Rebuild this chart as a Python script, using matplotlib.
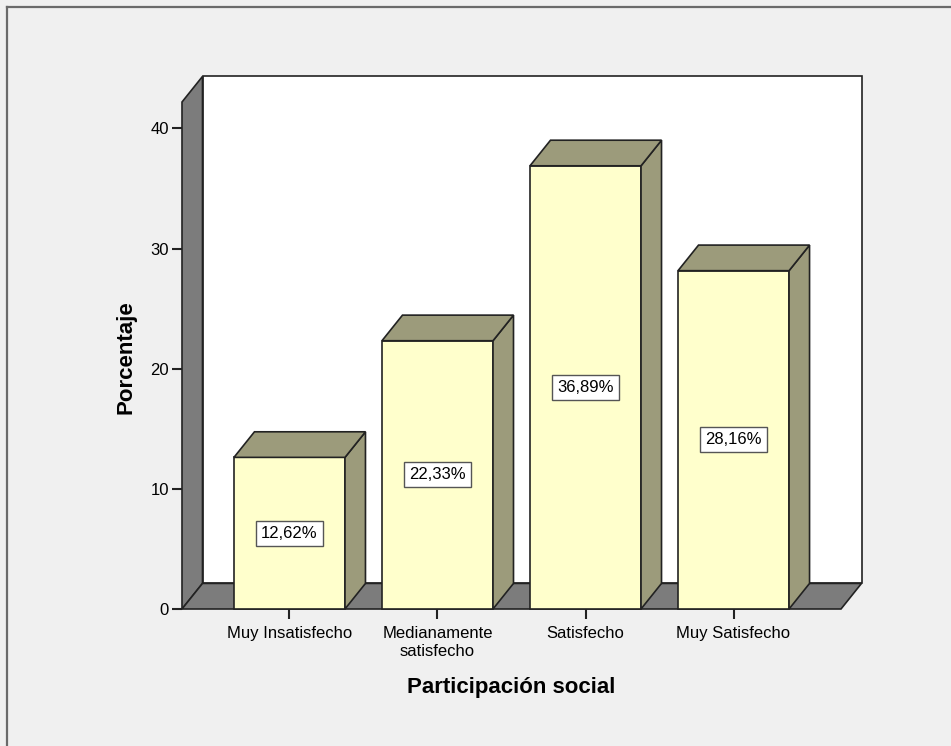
import matplotlib
matplotlib.use("Agg")
import matplotlib.pyplot as plt
from matplotlib.patches import Polygon
from matplotlib.lines import Line2D

# Datos del gráfico
categorias = ["Muy Insatisfecho", "Medianamente\nsatisfecho", "Satisfecho", "Muy Satisfecho"]
porcentajes = [12.62, 22.33, 36.89, 28.16]
yticks = [0, 10, 20, 30, 40]

plt.rcParams['font.family'] = ['Liberation Sans', 'DejaVu Sans']

fondo = '#F0F0F0'
pared = '#7C7C7C'
frente = '#FFFFCC'
lado = '#9C9B7B'
borde = '#222222'

fig = plt.figure(figsize=(9.51, 7.46), dpi=100, facecolor=fondo)
ax = fig.add_axes([182 / 951, 137 / 746, 659 / 951, 507 / 746])
ax.patch.set_visible(False)

x0, x1 = -0.726, 3.726
ymax = 42.2
ax.set_xlim(x0, x1)
ax.set_ylim(0, ymax)

# desplazamiento de profundidad (en unidades de datos)
dx = 20.5 / 148
dy = 25.6 / 12.02
lw = 1.2

def poly(pts, color, z):
    p = Polygon(pts, closed=True, facecolor=color, edgecolor=borde,
                linewidth=lw, clip_on=False, zorder=z, joinstyle='miter')
    ax.add_patch(p)

# pared de fondo, pared izquierda y suelo
poly([(x0 + dx, dy), (x1 + dx, dy), (x1 + dx, ymax + dy), (x0 + dx, ymax + dy)], 'white', 1)
poly([(x0, 0), (x0 + dx, dy), (x0 + dx, ymax + dy), (x0, ymax)], pared, 2)
poly([(x0, 0), (x1, 0), (x1 + dx, dy), (x0 + dx, dy)], pared, 2)

# barras 3D
w = 0.75
for i, v in enumerate(porcentajes):
    a, b = i - w / 2, i + w / 2
    poly([(a, 0), (b, 0), (b, v), (a, v)], frente, 3)
    poly([(b, 0), (b + dx, dy), (b + dx, v + dy), (b, v)], lado, 3)
    poly([(a, v), (b, v), (b + dx, v + dy), (a + dx, v + dy)], lado, 3)
    etiqueta = f"{v:.2f}".replace('.', ',') + '%'
    ax.text(i, v / 2, etiqueta, ha='center', va='center', fontsize=12, zorder=5,
            bbox=dict(boxstyle='square,pad=0.3', facecolor='white',
                      edgecolor='#555555', linewidth=1.0))

for s in ax.spines.values():
    s.set_visible(False)

ax.set_xticks(range(len(categorias)))
ax.set_xticklabels(categorias, fontsize=12, linespacing=1.2)
ax.set_yticks(yticks)
ax.set_yticklabels([str(t) for t in yticks], fontsize=12)
ax.tick_params(axis='both', direction='out', length=7.5, width=1.5, color='#222222', pad=2)
ax.tick_params(axis='x', pad=5)

fig.text(126 / 951, (746 - 357) / 746, 'Porcentaje', rotation=90, ha='center', va='center',
         fontsize=16, fontweight='bold')
fig.text(511 / 951, (746 - 688) / 746, 'Participación social', ha='center', va='center',
         fontsize=16, fontweight='bold')

# borde exterior
fig.add_artist(Line2D([6.5 / 951, 6.5 / 951], [0, 1 - 7 / 746], color='#6A6A6A', linewidth=1.6,
                      transform=fig.transFigure))
fig.add_artist(Line2D([6.5 / 951, 1], [1 - 7 / 746, 1 - 7 / 746], color='#6A6A6A', linewidth=1.6,
                      transform=fig.transFigure))

fig.savefig('out.png', dpi=100, facecolor=fondo)
